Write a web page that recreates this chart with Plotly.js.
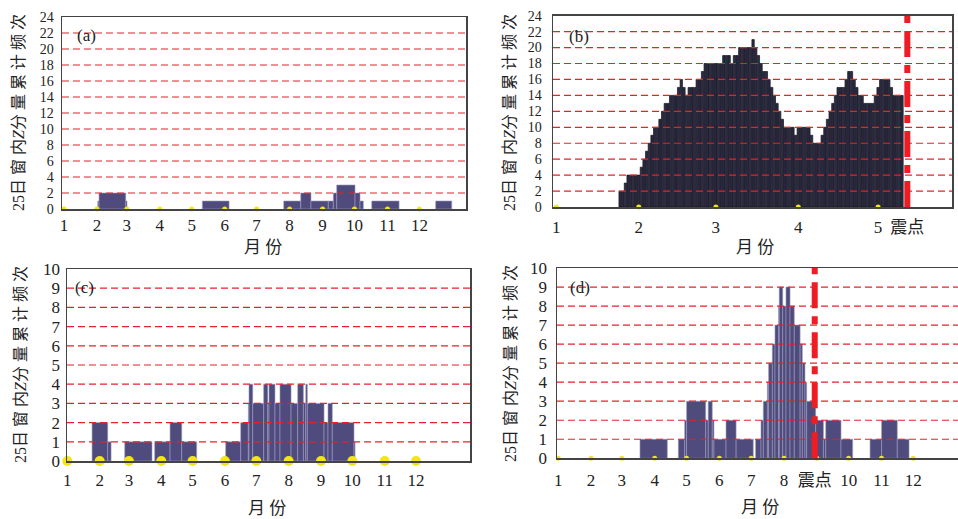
<!DOCTYPE html>
<html><head><meta charset="utf-8">
<script src="https://cdn.plot.ly/plotly-3.0.1.min.js"></script>
<style>html,body{margin:0;padding:0;background:#fff}#chart{width:958px;height:519px}</style>
</head><body><div id="chart"></div>
<script>
// ---------- tick labels / categories ----------
const monthLabels = ['1','2','3','4','5','6','7','8','9','10','11','12'];
const monthStartNonLeap = [0,31,59,90,120,151,181,212,243,273,304,334];
const monthStartLeap = [0,31,60,91,121,152,182,213,244,274,305,335];
const quakeLabel = '震点';
const yTicks24 = [0,2,4,6,8,10,12,14,16,18,20,22,24];
const yTicks10 = [0,1,2,3,4,5,6,7,8,9,10];

// ---------- panel (a): step segments (day of year, count) ----------
const aStart = [31.7, 32.9, 58, 130, 206.5, 222.5, 232.1, 248.4, 253.1, 256.3, 273.5, 278.2, 289.2, 349.3];
const aEnd   = [32.9, 58, 59.2, 155.1, 222.5, 232.1, 248.4, 253.1, 256.3, 273.5, 278.2, 281.3, 314.9, 364.4];
const aVal   = [1, 2, 1, 1, 1, 2, 1, 1, 2, 3, 2, 1, 1, 1];

// ---------- panel (b): daily values starting at day bFirstDay ----------
const bFirstDay = 24;
const bVal = [2,2,3,4,4,4,4,4,5,6,7,8,9,10,10,11,12,13,13,14,14,14,15,16,15,14,15,15,15,16,16,17,
  18,18,18,18,18,18,18,19,19,19,18,19,19,20,20,20,20,20,21,20,19,18,17,17,16,15,14,13,12,11,
  10,10,10,10,9,10,10,10,10,10,9,8,8,8,9,10,11,12,13,14,15,15,15,16,17,17,16,15,14,14,
  13,13,13,13,14,15,16,16,16,16,15,14,14,14,14];
const bQuakeDay = 132;

// ---------- panel (c) ----------
const cStart = [23.7, 38.7, 55, 83.7, 98.4, 109.6, 151.7, 166.1, 173.4, 174, 177.6, 188.1, 192, 193.2, 198.9, 203.7, 214.3, 220.7, 226.1, 228.4, 229.9, 245.9, 249.7, 253.8, 274.6];
const cEnd   = [38.7, 41.9, 81.1, 98.4, 109.6, 123.9, 166.1, 173.4, 174, 177.6, 188.1, 192, 193.2, 198.9, 203.7, 214.3, 220.7, 226.1, 228.4, 229.9, 245.9, 249.7, 253.8, 274.6, 275.6];
const cVal   = [2, 1, 1, 1, 2, 1, 1, 2, 3, 4, 3, 4, 3, 4, 3, 4, 3, 4, 3, 4, 3, 2, 3, 2, 1];

// ---------- panel (d) ----------
const dStart = [77.1, 113.3, 119.3, 121.1, 139.1, 141.5, 145.3, 146.9, 158.3, 167.8, 186.2, 191.3, 193.5, 197.3, 198.5, 202, 204.5, 207.9, 208.5, 211.8, 214.9, 218.7, 222.7, 228.2, 230.3, 232.8, 234.4, 242.9, 250.2, 252.4, 266.8, 294.2, 305.1, 319.9];
const dEnd   = [102.9, 119.3, 121.1, 139.1, 141.5, 145.3, 146.9, 158.3, 167.8, 184, 191.3, 193.5, 197.3, 198.5, 202, 204.5, 207.9, 208.5, 211.8, 214.9, 218.7, 222.7, 228.2, 230.3, 232.8, 234.4, 242.9, 250.2, 252.4, 266.8, 277.8, 305.1, 319.9, 331];
const dVal   = [1, 1, 2, 3, 2, 3, 2, 1, 2, 1, 1, 2, 3, 4, 5, 6, 7, 8, 9, 8, 9, 8, 7, 6, 5, 4, 3, 2, 1, 2, 1, 1, 2, 1];
const dQuakeDay = 242;

// ---------- styling ----------
const W = 958, H = 519;
const px = v => v / W, py = v => 1 - v / H;
const barColor = '#4f4b7c', barEdge = '#9c9ac0';
const gridRed = '#e8202a', quakeRed = '#ee1c25', dotYellow = '#f4e612';
const serif = 'Liberation Serif, Noto Sans CJK SC, serif';
const cjk = 'Liberation Serif, Noto Sans CJK SC, sans-serif';

function segTrace(st, en, val, xa, ya) {
  return {type:'bar', x: st.map((s,i)=>(s+en[i])/2), y: val, width: st.map((s,i)=>en[i]-s),
    base: 0, xaxis: xa, yaxis: ya, marker:{color: barColor, line:{color: barEdge, width:0.6}},
    hoverinfo:'skip', showlegend:false};
}
function dotTrace(days, xa, ya, size) {
  return {type:'scatter', mode:'markers', x: days, y: days.map(()=>0), xaxis: xa, yaxis: ya,
    cliponaxis:false, marker:{color: dotYellow, size: size, line:{width:0}}, hoverinfo:'skip', showlegend:false};
}

const bDays = bVal.map((v,i)=>bFirstDay + i);
const traces = [
  segTrace(aStart, aEnd, aVal, 'x', 'y'),
  dotTrace(monthStartNonLeap, 'x', 'y', 5),
  {type:'bar', x: bDays, y: bVal, width: 0.88, xaxis:'x2', yaxis:'y2',
   marker:{color:'#2e2b46', line:{color:'#121218', width:0.7}}, hoverinfo:'skip', showlegend:false},
  dotTrace(monthStartLeap.slice(0,5), 'x2', 'y2', 5),
  segTrace(cStart, cEnd, cVal, 'x3', 'y3'),
  dotTrace(monthStartNonLeap, 'x3', 'y3', 10),
  segTrace(dStart, dEnd, dVal, 'x4', 'y4'),
  dotTrace(monthStartLeap, 'x4', 'y4', 5)
];

function xAxis(domain, range, tickvals, ticktext, anchor, standoff) {
  return {domain, range, anchor, tickmode:'array', tickvals, ticktext, showgrid:false, zeroline:false,
    showline:true, mirror:true, linecolor:'#444', linewidth:1.5, ticks:'', ticklabelstandoff:standoff,
    tickfont:{family: serif, size:17, color:'#222'}, fixedrange:true};
}
function yAxis(domain, ticks, anchor, standoff, fs) {
  return {domain, range:[0, ticks[ticks.length-1]], anchor, tickmode:'array', tickvals: ticks,
    ticktext: ticks.map(String), showgrid:false, zeroline:false, showline:true, mirror:true,
    linecolor:'#444', linewidth:1.5, ticks:'', ticklabelstandoff:standoff,
    tickfont:{family: serif, size:fs, color:'#222'}, fixedrange:true};
}

const bTickVals = monthStartLeap.slice(0,5).concat([bQuakeDay]);
const bTickText = monthLabels.slice(0,5).concat([quakeLabel]);
const dTickVals = monthStartLeap.slice(0,8).concat([dQuakeDay]).concat(monthStartLeap.slice(9));
const dTickText = monthLabels.slice(0,8).concat([quakeLabel]).concat(monthLabels.slice(9));

const layout = {
  width: W, height: H, margin:{l:0,r:0,t:0,b:0}, paper_bgcolor:'#fff', plot_bgcolor:'#fff',
  barmode:'overlay', bargap:0, showlegend:false,
  xaxis:  xAxis([px(62), px(466)], [-1.9, 377.8], monthStartNonLeap, monthLabels, 'y', 0),
  yaxis:  yAxis([py(209), py(17)], yTicks24, 'x', 4, 14),
  xaxis2: xAxis([px(553), px(952)], [-1.24, 148.8], bTickVals, bTickText, 'y2', 4),
  yaxis2: yAxis([py(207), py(15.7)], yTicks24, 'x2', 7, 14),
  xaxis3: xAxis([px(67), px(470)], [-0.3, 385.7], monthStartNonLeap, monthLabels, 'y3', 3),
  yaxis3: yAxis([py(461), py(269)], yTicks10, 'x3', 2, 17),
  xaxis4: xAxis([px(557), 1], [-1.2, 377.2], dTickVals, dTickText, 'y4', 6),
  yaxis4: yAxis([py(458.3), py(268)], yTicks10, 'x4', 5, 17),
  shapes: [], annotations: []
};

// red dashed grid lines drawn above the bars
[['x','y',yTicks24],['x2','y2',yTicks24],['x3','y3',yTicks10],['x4','y4',yTicks10]].forEach(([xa,ya,t])=>{
  t.slice(1,-1).forEach(v=>layout.shapes.push({type:'line', xref: xa+' domain', yref: ya, x0:0, x1:1, y0:v, y1:v,
    line:{color: gridRed, width:1.2, dash:'7px,4px'}, layer:'above'}));
});
// earthquake lines
[['x2','y2',bQuakeDay, 24],['x4','y4',dQuakeDay, 10]].forEach(([xa,ya,d,top])=>{
  layout.shapes.push({type:'line', xref: xa, yref: ya, x0:d, x1:d, y0:0, y1:top,
    line:{color: quakeRed, width:6, dash:'26px,8px,8px,8px'}, layer:'above'});
});

// titles and panel labels
const yTitle = '25日 窗 内<i>Z</i>分 量 累 计 频 次';
const xTitle = '月 份';
[[19,113],[510,112],[20,365],[510,363]].forEach(([x,y])=>layout.annotations.push({
  text: yTitle, xref:'paper', yref:'paper', x: px(x), y: py(y), xanchor:'center', yanchor:'middle',
  textangle:-90, showarrow:false, borderpad:0, font:{family: cjk, size:16, color:'#222'}}));
[[263,247],[755,247],[267,508],[760,507]].forEach(([x,y])=>layout.annotations.push({
  text: xTitle, xref:'paper', yref:'paper', x: px(x), y: py(y), xanchor:'center', yanchor:'middle',
  showarrow:false, font:{family: cjk, size:17, color:'#222'}}));
[['(a)',75,36],['(b)',567,37],['(c)',73,287],['(d)',568,287]].forEach(([t,x,y])=>layout.annotations.push({
  text: t, xref:'paper', yref:'paper', x: px(x), y: py(y), xanchor:'left', yanchor:'middle',
  showarrow:false, font:{family: serif, size:17, color:'#222'}}));

Plotly.newPlot('chart', traces, layout, {staticPlot:true, displayModeBar:false});
</script></body></html>
